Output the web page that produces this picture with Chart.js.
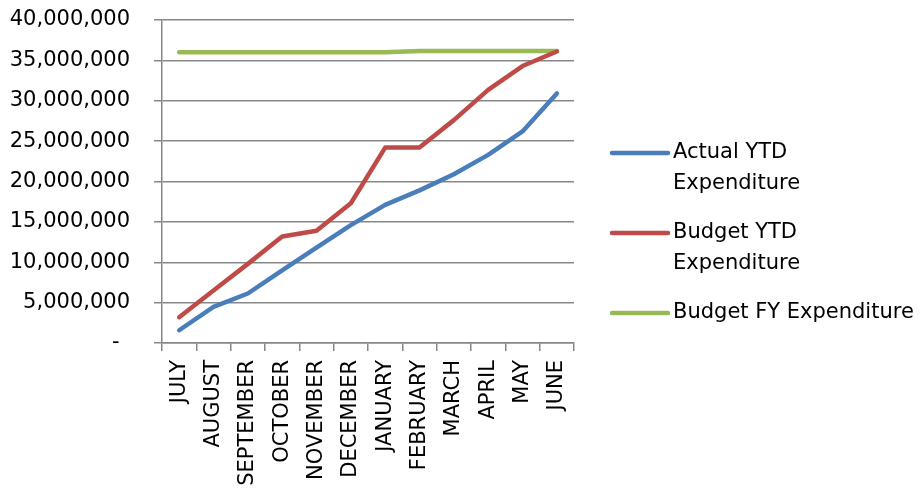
<!DOCTYPE html>
<html>
<head>
<meta charset="utf-8">
<script src="https://cdn.jsdelivr.net/npm/chart.js@4"></script>
<style>
html,body{margin:0;padding:0;background:#fff;}
#wrap{width:922px;height:489px;position:relative;}
</style>
</head>
<body>
<div id="wrap"><canvas id="c" width="922" height="489"></canvas></div>
<script>
const months = ['JULY','AUGUST','SEPTEMBER','OCTOBER','NOVEMBER','DECEMBER','JANUARY','FEBRUARY','MARCH','APRIL','MAY','JUNE'];
const actualYTD = [1580000, 4470000, 6130000, 9000000, 11800000, 14600000, 17100000, 18900000, 20900000, 23300000, 26200000, 30900000];
const budgetYTD = [3200000, 6500000, 9800000, 13200000, 13900000, 17300000, 24200000, 24200000, 27600000, 31350000, 34300000, 36100000];
const budgetFY = [36000000, 36000000, 36000000, 36000000, 36000000, 36000000, 36000000, 36150000, 36150000, 36150000, 36150000, 36150000];
const seriesNames = ['Actual YTD Expenditure', 'Budget YTD Expenditure', 'Budget FY Expenditure'];
const seriesColors = ['#4A7EBB', '#BE4B48', '#98B954'];
const yMin = 0, yMax = 40000000, yStep = 5000000;

const FONT = '"DejaVu Sans", sans-serif';
const gridColor = '#878787';

const legendPlugin = {
  id: 'sideLegend',
  afterDraw(chart) {
    const ctx = chart.ctx;
    const x0 = 612, x1 = 668, tx = 673, maxW = 247;
    const lineH = 31, itemGap = 18;
    ctx.save();
    ctx.font = '21px ' + FONT;
    ctx.textBaseline = 'middle';
    ctx.textAlign = 'left';
    const items = chart.data.datasets.map(ds => {
      const words = ds.label.split(' ');
      const lines = [];
      let cur = '';
      words.forEach(w => {
        const t = cur ? cur + ' ' + w : w;
        if (ctx.measureText(t).width > maxW && cur) { lines.push(cur); cur = w; } else cur = t;
      });
      if (cur) lines.push(cur);
      return {ds, lines};
    });
    let y = 153;
    items.forEach(it => {
      ctx.strokeStyle = it.ds.borderColor;
      ctx.lineWidth = 4.5;
      ctx.lineCap = 'round';
      ctx.beginPath(); ctx.moveTo(x0, y); ctx.lineTo(x1, y); ctx.stroke();
      ctx.fillStyle = '#000';
      it.lines.forEach((l, i) => ctx.fillText(l, tx, y + i * lineH));
      y += it.lines.length * lineH + itemGap;
    });
    ctx.restore();
  }
};

new Chart(document.getElementById('c'), {
  type: 'line',
  data: {
    labels: months,
    datasets: [actualYTD, budgetYTD, budgetFY].map((d, i) => ({
      label: seriesNames[i],
      data: d,
      borderColor: seriesColors[i],
      backgroundColor: seriesColors[i],
      borderWidth: 4.5,
      borderCapStyle: 'round',
      borderJoinStyle: 'round',
      pointRadius: 0,
      tension: 0,
      fill: false
    }))
  },
  options: {
    responsive: false,
    animation: false,
    devicePixelRatio: 1,
    layout: { padding: { left: 10, right: 348, top: 20, bottom: 0 } },
    plugins: { legend: { display: false }, tooltip: { enabled: false } },
    scales: {
      x: {
        offset: true,
        grid: { display: true, offset: true, drawOnChartArea: false, drawTicks: true, tickLength: 8, color: gridColor, lineWidth: 1.5 },
        border: { display: true, color: gridColor, width: 1.5 },
        ticks: { color: '#000', font: { family: FONT, size: 21 }, minRotation: 90, maxRotation: 90, padding: 9, autoSkip: false },
        afterFit(s) { s.height = 146; }
      },
      y: {
        min: yMin, max: yMax,
        grid: { color: gridColor, lineWidth: 1.5, drawTicks: true, tickLength: 8 },
        border: { display: true, color: gridColor, width: 1.5 },
        ticks: {
          stepSize: yStep, color: '#000', font: { family: FONT, size: 21 }, padding: 24,
          callback: v => v === 0 ? '-\u2002' : v.toLocaleString('en-US')
        },
        afterFit(s) { s.width = 152; s.paddingTop = 12; s.paddingBottom = 12; }
      }
    }
  },
  plugins: [legendPlugin]
});
</script>
</body>
</html>
